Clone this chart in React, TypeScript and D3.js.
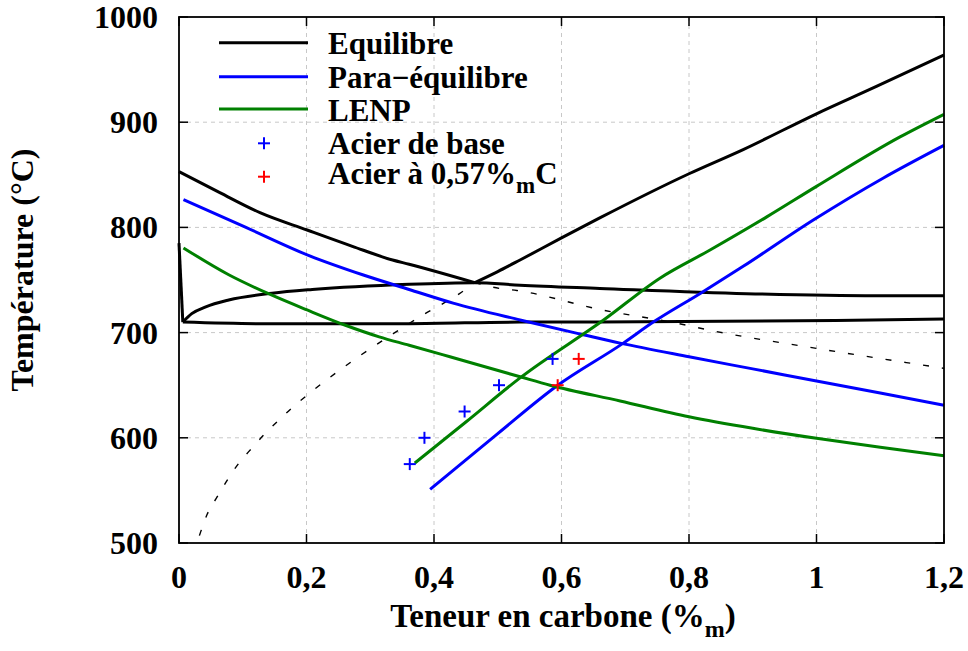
import React from "react";
import * as d3 from "d3";

type Pt = [number, number];

// ---- data (x = %m C, y = °C) ----
const xTicks = [0, 0.2, 0.4, 0.6, 0.8, 1, 1.2];
const xTickLabels = ["0", "0,2", "0,4", "0,6", "0,8", "1", "1,2"];
const yTicks = [500, 600, 700, 800, 900, 1000];

// Equilibre (black)
const eqA3: Pt[] = [[0, 853], [0.064, 833], [0.127, 814], [0.201, 797.5], [0.272, 782], [0.335, 769], [0.361, 765], [0.464, 747.5]];
const eqAcm: Pt[] = [[0.464, 747.5], [0.5, 758], [0.535, 769], [0.6, 790], [0.66, 809], [0.8, 851], [0.885, 874], [1.0, 908], [1.094, 934], [1.2, 964]];
const eqUpper: Pt[] = [[0.006, 710], [0.02, 718], [0.042, 724.5], [0.078, 731], [0.146, 737.4], [0.209, 741], [0.361, 746], [0.464, 747.5], [0.535, 745], [0.66, 742], [0.89, 737], [1.094, 735], [1.2, 735]];
const eqLower: Pt[] = [[0.006, 710], [0.13, 708.5], [0.361, 708.5], [0.535, 710], [0.66, 710], [1.03, 711.5], [1.2, 713]];
const eqVertical: Pt[] = [[0, 785], [0.006, 710]];
const eqDashA3: Pt[] = [[0.464, 747.5], [0.503, 742], [0.53, 740], [0.66, 722], [0.78, 709], [0.843, 701], [1.0, 685], [1.2, 666]];
const eqDashAcm: Pt[] = [[0.032, 507], [0.044, 527], [0.06, 544], [0.076, 560], [0.094, 576], [0.114, 590], [0.135, 604], [0.157, 617], [0.18, 630], [0.204, 642], [0.279, 676], [0.336, 699], [0.383, 717], [0.44, 737], [0.464, 747.5]];

// Para-équilibre (blue)
const paraDown: Pt[] = [[0.007, 826.5], [0.105, 800], [0.205, 773], [0.288, 755], [0.361, 741], [0.43, 728], [0.535, 712], [0.634, 698], [0.692, 690], [0.8, 677], [0.9, 665.5], [1.0, 654], [1.2, 631]];
const paraUp: Pt[] = [[0.394, 551], [0.5, 604], [0.592, 649], [0.697, 690], [0.744, 710], [0.817, 737], [0.885, 763], [0.995, 807], [1.105, 847], [1.2, 878]];

// LENP (green)
const lenpDown: Pt[] = [[0.007, 780.5], [0.078, 755], [0.144, 736], [0.201, 721.5], [0.261, 707], [0.314, 696], [0.361, 688], [0.425, 677], [0.535, 658], [0.582, 650], [0.692, 635], [0.8, 620], [0.9, 609], [1.0, 599.5], [1.1, 591], [1.2, 583]];
const lenpUp: Pt[] = [[0.37, 576], [0.45, 615], [0.535, 657], [0.666, 712], [0.755, 752], [0.833, 778.5], [0.922, 810], [1.0, 839], [1.131, 886], [1.2, 907.5]];

// Points
const acierBase: Pt[] = [[0.362, 575], [0.385, 600], [0.448, 625], [0.502, 650], [0.586, 675]];
const acier057: Pt[] = [[0.594, 650], [0.627, 675]];

const legendLines = [
  { label: "Equilibre", color: "#000000" },
  { label: "Para\u2212équilibre", color: "#0000ff" },
  { label: "LENP", color: "#008000" },
];

// ---- layout ----
const W = 968, H = 651;
const L = 179, R = 944, T = 17, B = 543;
const FONT = "'Liberation Serif', 'Times New Roman', serif";

export default function App() {
  const x = d3.scaleLinear().domain([0, 1.2]).range([L, R]);
  const y = d3.scaleLinear().domain([500, 1000]).range([B, T]);
  const line = d3.line<Pt>().x((d) => x(d[0])).y((d) => y(d[1])).curve(d3.curveMonotoneX);
  const straight = d3.line<Pt>().x((d) => x(d[0])).y((d) => y(d[1]));

  const cross = (px: number, py: number, color: string, key: string) => (
    <g key={key} stroke={color} strokeWidth={2}>
      <line x1={px - 6} x2={px + 6} y1={py} y2={py} />
      <line x1={px} x2={px} y1={py - 6} y2={py + 6} />
    </g>
  );

  const legendRowY = [42.7, 76.7, 109, 143.3, 176.7];
  const legendBase = [54, 87.5, 120.5, 153.5, 184];

  return (
    <svg width={W} height={H} style={{ position: "absolute", left: 0, top: 0, background: "#fff" }} fontFamily={FONT}>
      <rect x={0} y={0} width={W} height={H} fill="#fff" />
      {/* grid */}
      <g stroke="#c8c8c8" strokeWidth={1} strokeDasharray="4,4">
        {xTicks.slice(1, -1).map((t) => (
          <line key={"gx" + t} x1={x(t)} x2={x(t)} y1={T} y2={B} />
        ))}
        {yTicks.slice(1, -1).map((t) => (
          <line key={"gy" + t} x1={L} x2={R} y1={y(t)} y2={y(t)} />
        ))}
      </g>
      {/* ticks (inward, all sides) */}
      <g stroke="#000" strokeWidth={1.5}>
        {xTicks.map((t) => (
          <g key={"tx" + t}>
            <line x1={x(t)} x2={x(t)} y1={B} y2={B - 9} />
            <line x1={x(t)} x2={x(t)} y1={T} y2={T + 9} />
          </g>
        ))}
        {yTicks.map((t) => (
          <g key={"ty" + t}>
            <line x1={L} x2={L + 9} y1={y(t)} y2={y(t)} />
            <line x1={R} x2={R - 9} y1={y(t)} y2={y(t)} />
          </g>
        ))}
      </g>

      {/* curves */}
      <g fill="none" strokeLinejoin="round" strokeLinecap="butt">
        <path d={line(eqDashAcm) || ""} stroke="#000" strokeWidth={1.4} strokeDasharray="6,13" />
        <path d={line(eqDashA3) || ""} stroke="#000" strokeWidth={1.4} strokeDasharray="6,13" />
        {[eqA3, eqAcm, eqUpper, eqLower].map((s, i) => (
          <path key={"eq" + i} d={line(s) || ""} stroke="#000" strokeWidth={3} />
        ))}
        <path d={straight(eqVertical) || ""} stroke="#000" strokeWidth={3} />
        <path d={line(paraDown) || ""} stroke="#0000ff" strokeWidth={3} />
        <path d={line(paraUp) || ""} stroke="#0000ff" strokeWidth={3} />
        <path d={line(lenpDown) || ""} stroke="#008000" strokeWidth={3} />
        <path d={line(lenpUp) || ""} stroke="#008000" strokeWidth={3} />
      </g>

      {/* points */}
      {acierBase.map((d, i) => cross(x(d[0]), y(d[1]), "#0000ff", "b" + i))}
      {acier057.map((d, i) => cross(x(d[0]), y(d[1]), "#ff0000", "r" + i))}

      {/* frame */}
      <rect x={L} y={T} width={R - L} height={B - T} fill="none" stroke="#000" strokeWidth={1.8} />

      {/* legend */}
      <g fontSize={31} fontWeight="bold">
        {legendLines.map((l, i) => (
          <g key={l.label}>
            <line x1={219} x2={308} y1={legendRowY[i]} y2={legendRowY[i]} stroke={l.color} strokeWidth={3} />
            <text x={328} y={legendBase[i]}>{l.label}</text>
          </g>
        ))}
        {cross(264, legendRowY[3], "#0000ff", "lb")}
        <text x={328} y={legendBase[3]}>Acier de base</text>
        {cross(264, legendRowY[4], "#ff0000", "lr")}
        <text x={328} y={legendBase[4]}>
          Acier à 0,57%
          <tspan fontSize={23} dy={9}>m</tspan>
          <tspan dy={-9}>C</tspan>
        </text>
      </g>

      {/* axis tick labels */}
      <g fontSize={32} fontWeight="bold">
        {xTicks.map((t, i) => (
          <text key={"xl" + t} x={x(t)} y={588} textAnchor="middle">{xTickLabels[i]}</text>
        ))}
        {yTicks.map((t) => (
          <text key={"yl" + t} x={158} y={y(t) + 11} textAnchor="end">{t}</text>
        ))}
      </g>

      {/* axis titles */}
      <text x={563} y={627} fontSize={33} fontWeight="bold" textAnchor="middle">
        Teneur en carbone (%
        <tspan fontSize={24} dy={10}>m</tspan>
        <tspan dy={-10}>)</tspan>
      </text>
      <text transform="translate(33,270) rotate(-90)" fontSize={32} fontWeight="bold" textAnchor="middle">
        Température (°C)
      </text>
    </svg>
  );
}
